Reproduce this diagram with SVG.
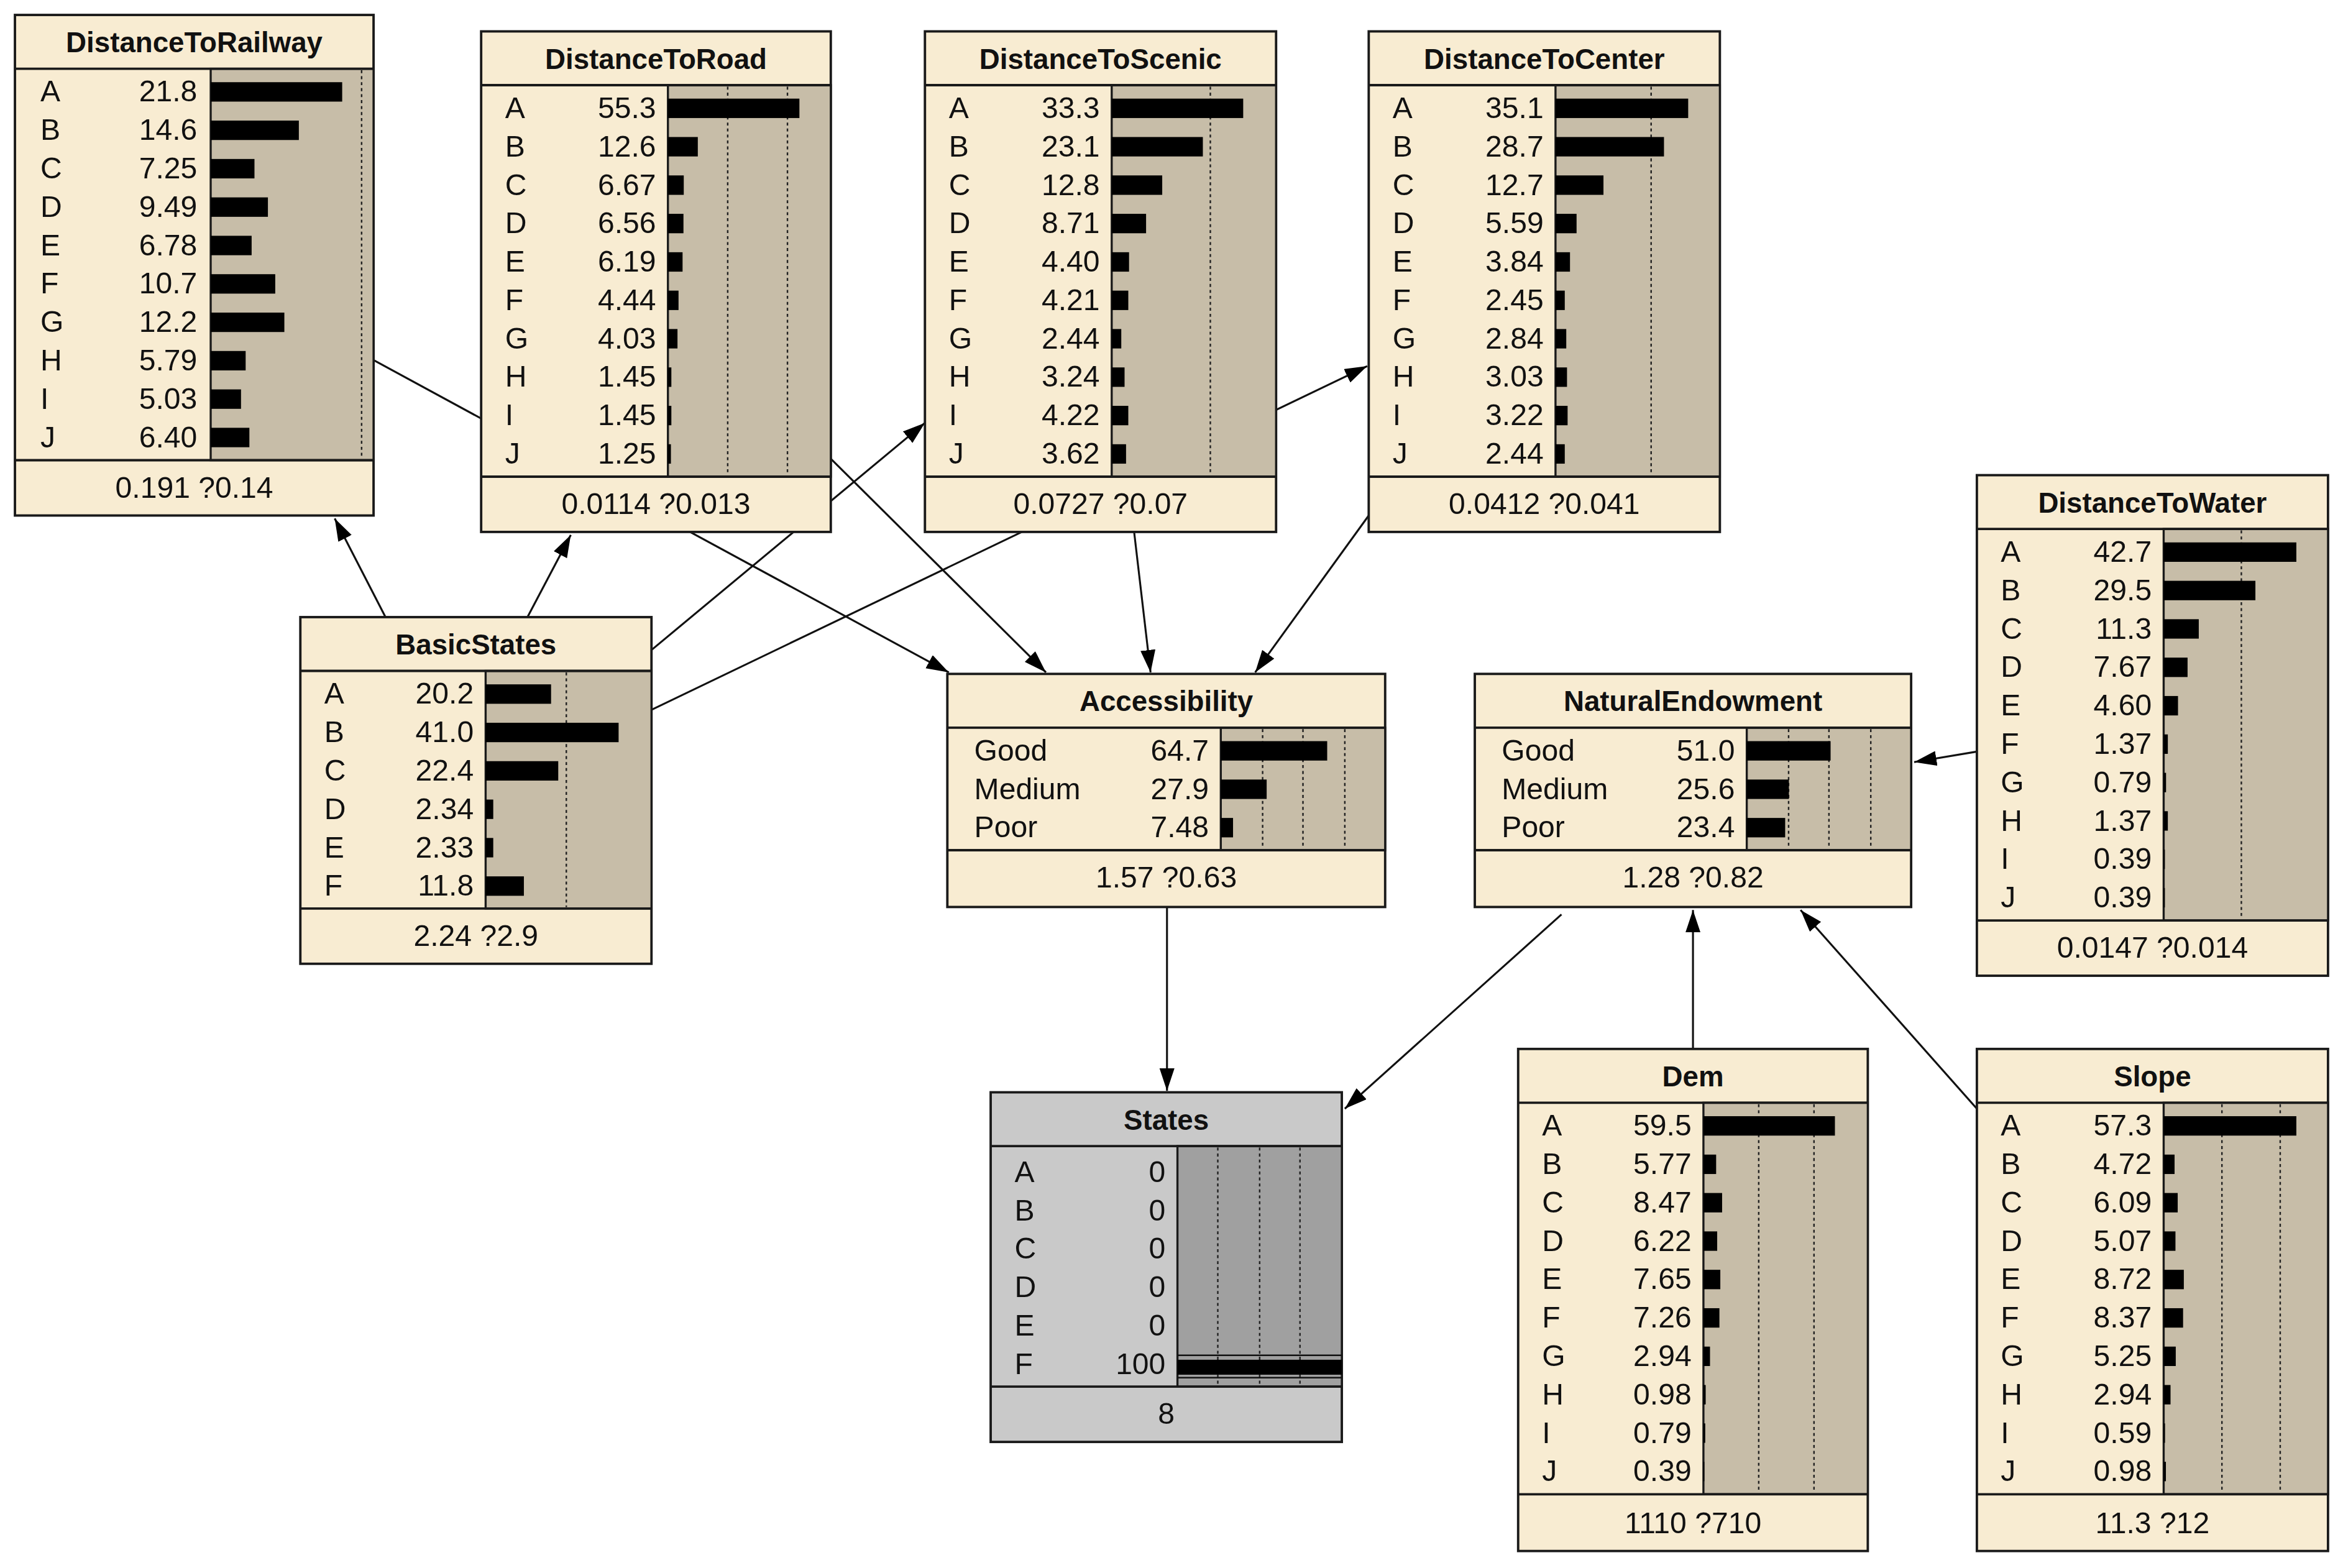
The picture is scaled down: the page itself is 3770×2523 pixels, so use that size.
<svg xmlns="http://www.w3.org/2000/svg" width="3770" height="2523" viewBox="0 0 3770 2523">
<style>
.box{fill:#f8ecd2;stroke:#1a1a1a;stroke-width:1.6}
.sep{stroke:#1a1a1a;stroke-width:1.6}
.area{fill:#c7bda8;stroke:#1a1a1a;stroke-width:1.4}
.gbox{fill:#c9c9c9;stroke:#1a1a1a;stroke-width:1.6}
.garea{fill:#a0a0a0;stroke:#1a1a1a;stroke-width:1.4}
.grid{stroke:#222;stroke-width:1;stroke-dasharray:2 2}
.bar{fill:#000}
text{font-family:"Liberation Sans",Arial,sans-serif;fill:#111}
.t{font-size:19px;font-weight:bold;text-anchor:middle}
.l{font-size:20px}
.v{font-size:20px;text-anchor:end}
.f{font-size:20px;text-anchor:middle}
.e{stroke:#111;stroke-width:1.3;fill:none;marker-end:url(#ah)}
</style>
<defs>
<marker id="ah" markerUnits="userSpaceOnUse" markerWidth="16" markerHeight="12" refX="15" refY="5" orient="auto"><path d="M0,0 L15,5 L0,10 z" fill="#000"/></marker>
</defs>
<rect width="3770" height="2523" fill="#fff"/>
<g transform="scale(2.4043)">
<g id="connectors">
<line class="e" x1="258" y1="413" x2="224" y2="347"/>
<line class="e" x1="353" y1="413" x2="382" y2="358"/>
<line class="e" x1="436" y1="435" x2="619" y2="283"/>
<line class="e" x1="436" y1="475" x2="915" y2="245"/>
<line class="e" x1="250" y1="241" x2="635" y2="450"/>
<line class="e" x1="556" y1="307" x2="700" y2="450"/>
<line class="e" x1="759" y1="356" x2="770" y2="450"/>
<line class="e" x1="916" y1="345" x2="840" y2="450"/>
<line class="e" x1="1323" y1="503" x2="1281" y2="510"/>
<line class="e" x1="1133" y1="702" x2="1133" y2="609"/>
<line class="e" x1="1323" y1="742" x2="1205" y2="609"/>
<line class="e" x1="781" y1="607" x2="781" y2="730"/>
<line class="e" x1="1045" y1="612" x2="900" y2="742"/>
</g>

<g id="DistanceToRailway" transform="translate(10,10)">
<rect class="box" width="240" height="335"/>
<rect class="area" x="131" y="36" width="109" height="262"/>
<line class="grid" x1="232" y1="37" x2="232" y2="297"/>
<line class="sep" x1="0" y1="36" x2="240" y2="36"/><line class="sep" x1="0" y1="298" x2="240" y2="298"/>
<text class="t" x="120" y="25">DistanceToRailway</text>
<g class="bar"><rect x="131" y="45" width="88" height="13"/><rect x="131" y="70.7" width="59" height="13"/><rect x="131" y="96.4" width="29.3" height="13"/><rect x="131" y="122.1" width="38.3" height="13"/><rect x="131" y="147.8" width="27.4" height="13"/><rect x="131" y="173.5" width="43.2" height="13"/><rect x="131" y="199.2" width="49.3" height="13"/><rect x="131" y="224.9" width="23.4" height="13"/><rect x="131" y="250.6" width="20.3" height="13"/><rect x="131" y="276.3" width="25.9" height="13"/></g>
<g class="l"><text x="17" y="58">A</text><text x="17" y="83.7">B</text><text x="17" y="109.4">C</text><text x="17" y="135.1">D</text><text x="17" y="160.8">E</text><text x="17" y="186.5">F</text><text x="17" y="212.2">G</text><text x="17" y="237.9">H</text><text x="17" y="263.6">I</text><text x="17" y="289.3">J</text></g>
<g class="v"><text x="122" y="58">21.8</text><text x="122" y="83.7">14.6</text><text x="122" y="109.4">7.25</text><text x="122" y="135.1">9.49</text><text x="122" y="160.8">6.78</text><text x="122" y="186.5">10.7</text><text x="122" y="212.2">12.2</text><text x="122" y="237.9">5.79</text><text x="122" y="263.6">5.03</text><text x="122" y="289.3">6.40</text></g>
<text class="f" x="120" y="323">0.191 ?0.14</text>
</g>

<g id="DistanceToRoad" transform="translate(322,21)">
<rect class="box" width="234" height="335"/>
<rect class="area" x="125" y="36" width="109" height="262"/>
<line class="grid" x1="165" y1="37" x2="165" y2="297"/><line class="grid" x1="205" y1="37" x2="205" y2="297"/>
<line class="sep" x1="0" y1="36" x2="234" y2="36"/><line class="sep" x1="0" y1="298" x2="234" y2="298"/>
<text class="t" x="117" y="25">DistanceToRoad</text>
<g class="bar"><rect x="125" y="45" width="88" height="13"/><rect x="125" y="70.7" width="20" height="13"/><rect x="125" y="96.4" width="10.6" height="13"/><rect x="125" y="122.1" width="10.4" height="13"/><rect x="125" y="147.8" width="9.8" height="13"/><rect x="125" y="173.5" width="7.1" height="13"/><rect x="125" y="199.2" width="6.4" height="13"/><rect x="125" y="224.9" width="2.3" height="13"/><rect x="125" y="250.6" width="2.3" height="13"/><rect x="125" y="276.3" width="2" height="13"/></g>
<g class="l"><text x="16" y="58">A</text><text x="16" y="83.7">B</text><text x="16" y="109.4">C</text><text x="16" y="135.1">D</text><text x="16" y="160.8">E</text><text x="16" y="186.5">F</text><text x="16" y="212.2">G</text><text x="16" y="237.9">H</text><text x="16" y="263.6">I</text><text x="16" y="289.3">J</text></g>
<g class="v"><text x="117" y="58">55.3</text><text x="117" y="83.7">12.6</text><text x="117" y="109.4">6.67</text><text x="117" y="135.1">6.56</text><text x="117" y="160.8">6.19</text><text x="117" y="186.5">4.44</text><text x="117" y="212.2">4.03</text><text x="117" y="237.9">1.45</text><text x="117" y="263.6">1.45</text><text x="117" y="289.3">1.25</text></g>
<text class="f" x="117" y="323">0.0114 ?0.013</text>
</g>

<g id="DistanceToScenic" transform="translate(619,21)">
<rect class="box" width="235" height="335"/>
<rect class="area" x="125" y="36" width="110" height="262"/>
<line class="grid" x1="191" y1="37" x2="191" y2="297"/>
<line class="sep" x1="0" y1="36" x2="235" y2="36"/><line class="sep" x1="0" y1="298" x2="235" y2="298"/>
<text class="t" x="117.5" y="25">DistanceToScenic</text>
<g class="bar"><rect x="125" y="45" width="88" height="13"/><rect x="125" y="70.7" width="61" height="13"/><rect x="125" y="96.4" width="33.8" height="13"/><rect x="125" y="122.1" width="23" height="13"/><rect x="125" y="147.8" width="11.6" height="13"/><rect x="125" y="173.5" width="11.1" height="13"/><rect x="125" y="199.2" width="6.4" height="13"/><rect x="125" y="224.9" width="8.6" height="13"/><rect x="125" y="250.6" width="11.1" height="13"/><rect x="125" y="276.3" width="9.6" height="13"/></g>
<g class="l"><text x="16" y="58">A</text><text x="16" y="83.7">B</text><text x="16" y="109.4">C</text><text x="16" y="135.1">D</text><text x="16" y="160.8">E</text><text x="16" y="186.5">F</text><text x="16" y="212.2">G</text><text x="16" y="237.9">H</text><text x="16" y="263.6">I</text><text x="16" y="289.3">J</text></g>
<g class="v"><text x="117" y="58">33.3</text><text x="117" y="83.7">23.1</text><text x="117" y="109.4">12.8</text><text x="117" y="135.1">8.71</text><text x="117" y="160.8">4.40</text><text x="117" y="186.5">4.21</text><text x="117" y="212.2">2.44</text><text x="117" y="237.9">3.24</text><text x="117" y="263.6">4.22</text><text x="117" y="289.3">3.62</text></g>
<text class="f" x="117.5" y="323">0.0727 ?0.07</text>
</g>

<g id="DistanceToCenter" transform="translate(916,21)">
<rect class="box" width="235" height="335"/>
<rect class="area" x="125" y="36" width="110" height="262"/>
<line class="grid" x1="189" y1="37" x2="189" y2="297"/>
<line class="sep" x1="0" y1="36" x2="235" y2="36"/><line class="sep" x1="0" y1="298" x2="235" y2="298"/>
<text class="t" x="117.5" y="25">DistanceToCenter</text>
<g class="bar"><rect x="125" y="45" width="88.8" height="13"/><rect x="125" y="70.7" width="72.6" height="13"/><rect x="125" y="96.4" width="32.1" height="13"/><rect x="125" y="122.1" width="14.1" height="13"/><rect x="125" y="147.8" width="9.7" height="13"/><rect x="125" y="173.5" width="6.2" height="13"/><rect x="125" y="199.2" width="7.2" height="13"/><rect x="125" y="224.9" width="7.7" height="13"/><rect x="125" y="250.6" width="8.1" height="13"/><rect x="125" y="276.3" width="6.2" height="13"/></g>
<g class="l"><text x="16" y="58">A</text><text x="16" y="83.7">B</text><text x="16" y="109.4">C</text><text x="16" y="135.1">D</text><text x="16" y="160.8">E</text><text x="16" y="186.5">F</text><text x="16" y="212.2">G</text><text x="16" y="237.9">H</text><text x="16" y="263.6">I</text><text x="16" y="289.3">J</text></g>
<g class="v"><text x="117" y="58">35.1</text><text x="117" y="83.7">28.7</text><text x="117" y="109.4">12.7</text><text x="117" y="135.1">5.59</text><text x="117" y="160.8">3.84</text><text x="117" y="186.5">2.45</text><text x="117" y="212.2">2.84</text><text x="117" y="237.9">3.03</text><text x="117" y="263.6">3.22</text><text x="117" y="289.3">2.44</text></g>
<text class="f" x="117.5" y="323">0.0412 ?0.041</text>
</g>

<g id="DistanceToWater" transform="translate(1323,318)">
<rect class="box" width="235" height="335"/>
<rect class="area" x="125" y="36" width="110" height="262"/>
<line class="grid" x1="177" y1="37" x2="177" y2="297"/>
<line class="sep" x1="0" y1="36" x2="235" y2="36"/><line class="sep" x1="0" y1="298" x2="235" y2="298"/>
<text class="t" x="117.5" y="25">DistanceToWater</text>
<g class="bar"><rect x="125" y="45" width="88.8" height="13"/><rect x="125" y="70.7" width="61.4" height="13"/><rect x="125" y="96.4" width="23.5" height="13"/><rect x="125" y="122.1" width="16" height="13"/><rect x="125" y="147.8" width="9.6" height="13"/><rect x="125" y="173.5" width="2.8" height="13"/><rect x="125" y="199.2" width="1.6" height="13"/><rect x="125" y="224.9" width="2.8" height="13"/><rect x="125" y="250.6" width="0.8" height="13"/><rect x="125" y="276.3" width="0.8" height="13"/></g>
<g class="l"><text x="16" y="58">A</text><text x="16" y="83.7">B</text><text x="16" y="109.4">C</text><text x="16" y="135.1">D</text><text x="16" y="160.8">E</text><text x="16" y="186.5">F</text><text x="16" y="212.2">G</text><text x="16" y="237.9">H</text><text x="16" y="263.6">I</text><text x="16" y="289.3">J</text></g>
<g class="v"><text x="117" y="58">42.7</text><text x="117" y="83.7">29.5</text><text x="117" y="109.4">11.3</text><text x="117" y="135.1">7.67</text><text x="117" y="160.8">4.60</text><text x="117" y="186.5">1.37</text><text x="117" y="212.2">0.79</text><text x="117" y="237.9">1.37</text><text x="117" y="263.6">0.39</text><text x="117" y="289.3">0.39</text></g>
<text class="f" x="117.5" y="323">0.0147 ?0.014</text>
</g>

<g id="BasicStates" transform="translate(201,413)">
<rect class="box" width="235" height="232"/>
<rect class="area" x="124" y="36" width="111" height="159"/>
<line class="grid" x1="178" y1="37" x2="178" y2="194"/>
<line class="sep" x1="0" y1="36" x2="235" y2="36"/><line class="sep" x1="0" y1="195" x2="235" y2="195"/>
<text class="t" x="117.5" y="25">BasicStates</text>
<g class="bar"><rect x="124" y="45" width="43.8" height="13"/><rect x="124" y="70.7" width="89" height="13"/><rect x="124" y="96.4" width="48.6" height="13"/><rect x="124" y="122.1" width="5.1" height="13"/><rect x="124" y="147.8" width="5.1" height="13"/><rect x="124" y="173.5" width="25.6" height="13"/></g>
<g class="l"><text x="16" y="58">A</text><text x="16" y="83.7">B</text><text x="16" y="109.4">C</text><text x="16" y="135.1">D</text><text x="16" y="160.8">E</text><text x="16" y="186.5">F</text></g>
<g class="v"><text x="116" y="58">20.2</text><text x="116" y="83.7">41.0</text><text x="116" y="109.4">22.4</text><text x="116" y="135.1">2.34</text><text x="116" y="160.8">2.33</text><text x="116" y="186.5">11.8</text></g>
<text class="f" x="117.5" y="220">2.24 ?2.9</text>
</g>

<g id="Accessibility" transform="translate(634,451)">
<rect class="box" width="293" height="156"/>
<rect class="area" x="183" y="36" width="110" height="82"/>
<line class="grid" x1="211" y1="37" x2="211" y2="117"/><line class="grid" x1="238" y1="37" x2="238" y2="117"/><line class="grid" x1="266" y1="37" x2="266" y2="117"/>
<line class="sep" x1="0" y1="36" x2="293" y2="36"/><line class="sep" x1="0" y1="118" x2="293" y2="118"/>
<text class="t" x="146.5" y="25">Accessibility</text>
<g class="bar"><rect x="183" y="45" width="71.2" height="13"/><rect x="183" y="70.7" width="30.7" height="13"/><rect x="183" y="96.4" width="8.2" height="13"/></g>
<g class="l"><text x="18" y="58">Good</text><text x="18" y="83.7">Medium</text><text x="18" y="109.4">Poor</text></g>
<g class="v"><text x="175" y="58">64.7</text><text x="175" y="83.7">27.9</text><text x="175" y="109.4">7.48</text></g>
<text class="f" x="146.5" y="143">1.57 ?0.63</text>
</g>

<g id="NaturalEndowment" transform="translate(987,451)">
<rect class="box" width="292" height="156"/>
<rect class="area" x="182" y="36" width="110" height="82"/>
<line class="grid" x1="210" y1="37" x2="210" y2="117"/><line class="grid" x1="237" y1="37" x2="237" y2="117"/><line class="grid" x1="265" y1="37" x2="265" y2="117"/>
<line class="sep" x1="0" y1="36" x2="292" y2="36"/><line class="sep" x1="0" y1="118" x2="292" y2="118"/>
<text class="t" x="146" y="25">NaturalEndowment</text>
<g class="bar"><rect x="182" y="45" width="56.1" height="13"/><rect x="182" y="70.7" width="28.2" height="13"/><rect x="182" y="96.4" width="25.7" height="13"/></g>
<g class="l"><text x="18" y="58">Good</text><text x="18" y="83.7">Medium</text><text x="18" y="109.4">Poor</text></g>
<g class="v"><text x="174" y="58">51.0</text><text x="174" y="83.7">25.6</text><text x="174" y="109.4">23.4</text></g>
<text class="f" x="146" y="143">1.28 ?0.82</text>
</g>

<g id="States" transform="translate(663,731)">
<rect class="gbox" width="235" height="234"/>
<rect class="garea" x="125" y="36" width="110" height="161"/>
<line class="grid" x1="152" y1="37" x2="152" y2="196"/><line class="grid" x1="180" y1="37" x2="180" y2="196"/><line class="grid" x1="207" y1="37" x2="207" y2="196"/>
<line x1="125" y1="176" x2="235" y2="176" stroke="#111" stroke-width="1"/><line x1="125" y1="191" x2="235" y2="191" stroke="#111" stroke-width="1"/>
<rect class="bar" x="125" y="179" width="110" height="10"/>
<line class="sep" x1="0" y1="36" x2="235" y2="36"/><line class="sep" x1="0" y1="197" x2="235" y2="197"/>
<text class="t" x="117.5" y="25">States</text>
<g class="l"><text x="16" y="60">A</text><text x="16" y="85.7">B</text><text x="16" y="111.4">C</text><text x="16" y="137.1">D</text><text x="16" y="162.8">E</text><text x="16" y="188.5">F</text></g>
<g class="v"><text x="117" y="60">0</text><text x="117" y="85.7">0</text><text x="117" y="111.4">0</text><text x="117" y="137.1">0</text><text x="117" y="162.8">0</text><text x="117" y="188.5">100</text></g>
<text class="f" x="117.5" y="222">8</text>
</g>

<g id="Dem" transform="translate(1016,702)">
<rect class="box" width="234" height="336"/>
<rect class="area" x="124" y="36" width="110" height="262"/>
<line class="grid" x1="161" y1="37" x2="161" y2="297"/><line class="grid" x1="198" y1="37" x2="198" y2="297"/>
<line class="sep" x1="0" y1="36" x2="234" y2="36"/><line class="sep" x1="0" y1="298" x2="234" y2="298"/>
<text class="t" x="117" y="25">Dem</text>
<g class="bar"><rect x="124" y="45" width="88" height="13"/><rect x="124" y="70.7" width="8.5" height="13"/><rect x="124" y="96.4" width="12.5" height="13"/><rect x="124" y="122.1" width="9.2" height="13"/><rect x="124" y="147.8" width="11.3" height="13"/><rect x="124" y="173.5" width="10.7" height="13"/><rect x="124" y="199.2" width="4.4" height="13"/><rect x="124" y="224.9" width="1.5" height="13"/><rect x="124" y="250.6" width="1.2" height="13"/><rect x="124" y="276.3" width="0.6" height="13"/></g>
<g class="l"><text x="16" y="58">A</text><text x="16" y="83.7">B</text><text x="16" y="109.4">C</text><text x="16" y="135.1">D</text><text x="16" y="160.8">E</text><text x="16" y="186.5">F</text><text x="16" y="212.2">G</text><text x="16" y="237.9">H</text><text x="16" y="263.6">I</text><text x="16" y="289.3">J</text></g>
<g class="v"><text x="116" y="58">59.5</text><text x="116" y="83.7">5.77</text><text x="116" y="109.4">8.47</text><text x="116" y="135.1">6.22</text><text x="116" y="160.8">7.65</text><text x="116" y="186.5">7.26</text><text x="116" y="212.2">2.94</text><text x="116" y="237.9">0.98</text><text x="116" y="263.6">0.79</text><text x="116" y="289.3">0.39</text></g>
<text class="f" x="117" y="324">1110 ?710</text>
</g>

<g id="Slope" transform="translate(1323,702)">
<rect class="box" width="235" height="336"/>
<rect class="area" x="125" y="36" width="110" height="262"/>
<line class="grid" x1="164" y1="37" x2="164" y2="297"/><line class="grid" x1="203" y1="37" x2="203" y2="297"/>
<line class="sep" x1="0" y1="36" x2="235" y2="36"/><line class="sep" x1="0" y1="298" x2="235" y2="298"/>
<text class="t" x="117.5" y="25">Slope</text>
<g class="bar"><rect x="125" y="45" width="88.8" height="13"/><rect x="125" y="70.7" width="7.3" height="13"/><rect x="125" y="96.4" width="9.4" height="13"/><rect x="125" y="122.1" width="7.9" height="13"/><rect x="125" y="147.8" width="13.5" height="13"/><rect x="125" y="173.5" width="13" height="13"/><rect x="125" y="199.2" width="8.1" height="13"/><rect x="125" y="224.9" width="4.6" height="13"/><rect x="125" y="250.6" width="0.9" height="13"/><rect x="125" y="276.3" width="1.5" height="13"/></g>
<g class="l"><text x="16" y="58">A</text><text x="16" y="83.7">B</text><text x="16" y="109.4">C</text><text x="16" y="135.1">D</text><text x="16" y="160.8">E</text><text x="16" y="186.5">F</text><text x="16" y="212.2">G</text><text x="16" y="237.9">H</text><text x="16" y="263.6">I</text><text x="16" y="289.3">J</text></g>
<g class="v"><text x="117" y="58">57.3</text><text x="117" y="83.7">4.72</text><text x="117" y="109.4">6.09</text><text x="117" y="135.1">5.07</text><text x="117" y="160.8">8.72</text><text x="117" y="186.5">8.37</text><text x="117" y="212.2">5.25</text><text x="117" y="237.9">2.94</text><text x="117" y="263.6">0.59</text><text x="117" y="289.3">0.98</text></g>
<text class="f" x="117.5" y="324">11.3 ?12</text>
</g>
</g>
</svg>
